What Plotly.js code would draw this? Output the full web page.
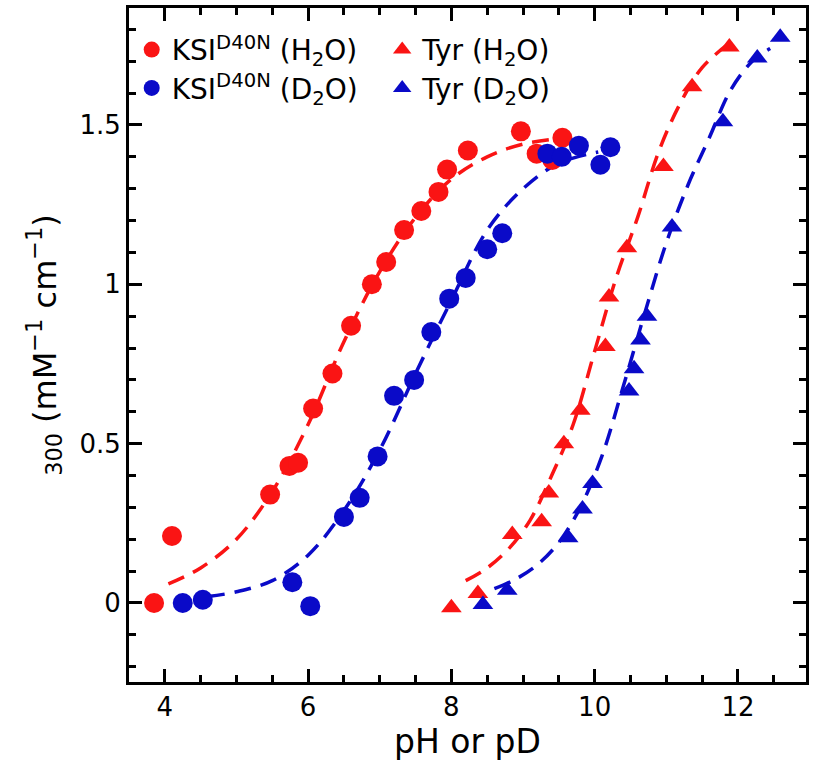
<!DOCTYPE html>
<html>
<head>
<meta charset="utf-8">
<script src="https://cdn.plot.ly/plotly-3.0.1.min.js"></script>
<style>html,body{margin:0;padding:0;background:#fff;}#chart{width:813px;height:761px;}</style>
</head>
<body>
<div id="chart"></div>
<script>
// Data points
const ksiH_pH  = [3.85, 4.10, 5.47, 5.74, 5.86, 6.07, 6.34, 6.60, 6.89, 7.09, 7.34, 7.58, 7.82, 7.94, 8.23, 8.97, 9.19, 9.41, 9.55];
const ksiH_eps = [0.00, 0.21, 0.34, 0.43, 0.44, 0.61, 0.72, 0.87, 1.00, 1.07, 1.17, 1.23, 1.29, 1.36, 1.42, 1.48, 1.41, 1.39, 1.46];

const ksiD_pD  = [4.25, 4.53, 5.78, 6.03, 6.50, 6.72, 6.97, 7.20, 7.48, 7.72, 7.97, 8.20, 8.50, 8.71, 9.34, 9.54, 9.78, 10.08, 10.22];
const ksiD_eps = [0.00, 0.01, 0.065, -0.01, 0.27, 0.33, 0.46, 0.65, 0.70, 0.85, 0.955, 1.02, 1.11, 1.16, 1.41, 1.40, 1.435, 1.375, 1.43];

const tyrH_pH  = [8.00, 8.37, 8.85, 9.26, 9.36, 9.57, 9.80, 10.15, 10.20, 10.45, 10.96, 11.36, 11.88];
const tyrH_eps = [-0.015, 0.03, 0.215, 0.255, 0.345, 0.50, 0.605, 0.805, 0.96, 1.115, 1.37, 1.62, 1.745];

const tyrD_pD  = [8.44, 8.78, 9.63, 9.83, 9.97, 10.48, 10.55, 10.64, 10.73, 11.08, 11.79, 12.27, 12.59];
const tyrD_eps = [-0.005, 0.04, 0.205, 0.295, 0.375, 0.665, 0.735, 0.825, 0.90, 1.18, 1.51, 1.71, 1.775];

// Fitted curves
const ksiH_fit_pH = [4.05, 4.5, 5.0, 5.5, 6.0, 6.5, 7.0, 7.5, 8.0, 8.5, 9.0, 9.6];
const ksiH_fit    = [0.06, 0.11, 0.20, 0.35, 0.56, 0.82, 1.04, 1.21, 1.33, 1.40, 1.44, 1.46];

const ksiD_fit_pD = [4.6, 5.0, 5.5, 6.0, 6.5, 7.0, 7.5, 8.0, 8.5, 9.0, 9.5, 10.05];
const ksiD_fit    = [0.02, 0.035, 0.07, 0.15, 0.29, 0.48, 0.72, 0.95, 1.17, 1.30, 1.38, 1.415];

const tyrH_fit_pH = [8.2, 8.5, 8.8, 9.1, 9.4, 9.7, 10.0, 10.3, 10.6, 10.9, 11.2, 11.5, 11.9];
const tyrH_fit    = [0.07, 0.11, 0.17, 0.26, 0.40, 0.56, 0.79, 1.02, 1.21, 1.42, 1.57, 1.68, 1.76];

const tyrD_fit_pD = [8.6, 8.9, 9.2, 9.5, 9.8, 10.1, 10.4, 10.7, 11.0, 11.3, 11.6, 11.9, 12.2, 12.45];
const tyrD_fit    = [0.045, 0.075, 0.12, 0.19, 0.30, 0.46, 0.68, 0.91, 1.13, 1.31, 1.46, 1.61, 1.70, 1.74];

// Text
const xTitle = 'pH or pD';
const yTitle = '<sub>300</sub> (mM<sup>\u22121</sup> cm<sup>\u22121</sup>)';
const names = {
  ksiH: 'KSI<sup>D40N</sup> (H<sub>2</sub>O)',
  ksiD: 'KSI<sup>D40N</sup> (D<sub>2</sub>O)',
  tyrH: 'Tyr (H<sub>2</sub>O)',
  tyrD: 'Tyr (D<sub>2</sub>O)'
};

const RED = 'rgb(250,20,20)';
const BLUE = 'rgb(10,10,200)';
const FONT = 'DejaVu Sans, Liberation Sans, Arial, sans-serif';

function fit(x, y, color) {
  return {x: x, y: y, type: 'scatter', mode: 'lines', showlegend: false, hoverinfo: 'skip',
          line: {color: color, width: 3.5, dash: '17px,10px', shape: 'spline', smoothing: 1}};
}
function pts(x, y, color, symbol, size, name, legend) {
  return {x: x, y: y, type: 'scatter', mode: 'markers', name: name, legend: legend,
          marker: {color: color, symbol: symbol, size: size, line: {width: 0}}};
}

const traces = [
  fit(ksiH_fit_pH, ksiH_fit, RED),
  fit(ksiD_fit_pD, ksiD_fit, BLUE),
  fit(tyrH_fit_pH, tyrH_fit, RED),
  fit(tyrD_fit_pD, tyrD_fit, BLUE),
  pts(ksiH_pH, ksiH_eps, RED, 'circle', 20, names.ksiH, 'legend'),
  pts(ksiD_pD, ksiD_eps, BLUE, 'circle', 20, names.ksiD, 'legend2'),
  pts(tyrH_pH, tyrH_eps, RED, 'triangle-up', 18, names.tyrH, 'legend3'),
  pts(tyrD_pD, tyrD_eps, BLUE, 'triangle-up', 18, names.tyrD, 'legend4')
];

const axisCommon = {
  showline: true, linecolor: 'black', linewidth: 3, mirror: 'allticks',
  ticks: 'inside', ticklen: 13, tickwidth: 3, tickcolor: 'black',
  showgrid: false, zeroline: false,
  tickfont: {family: FONT, size: 26, color: 'black'}
};

const legendCommon = {
  orientation: 'v', bgcolor: 'rgba(0,0,0,0)', borderwidth: 0,
  font: {family: FONT, size: 28, color: 'black'},
  xanchor: 'left', yanchor: 'top', itemsizing: 'trace', tracegroupgap: 0
};

const layout = {
  width: 813, height: 761,
  margin: {l: 129, r: 7, t: 8, b: 79},
  paper_bgcolor: 'white', plot_bgcolor: 'white',
  font: {family: FONT, color: 'black'},
  xaxis: Object.assign({}, axisCommon, {
    range: [3.5, 12.95], dtick: 2, tick0: 0,
    minor: {dtick: 0.5, tick0: 0, ticks: 'inside', ticklen: 7, tickwidth: 3, tickcolor: 'black', showgrid: false},
    title: {text: xTitle, font: {family: FONT, size: 33, color: 'black'}, standoff: 8}
  }),
  yaxis: Object.assign({}, axisCommon, {
    range: [-0.248, 1.867], dtick: 0.5, tick0: 0,
    minor: {dtick: 0.1, tick0: 0, ticks: 'inside', ticklen: 7, tickwidth: 3, tickcolor: 'black', showgrid: false},
    title: {text: yTitle, font: {family: FONT, size: 32, color: 'black'}, standoff: 14}
  }),
  legend:  Object.assign({}, legendCommon, {x: 0.004, y: 0.975}),
  legend2: Object.assign({}, legendCommon, {x: 0.004, y: 0.918}),
  legend3: Object.assign({}, legendCommon, {x: 0.374, y: 0.975}),
  legend4: Object.assign({}, legendCommon, {x: 0.374, y: 0.918}),
  showlegend: true
};

Plotly.newPlot('chart', traces, layout, {displayModeBar: false, staticPlot: true});
</script>
</body>
</html>
